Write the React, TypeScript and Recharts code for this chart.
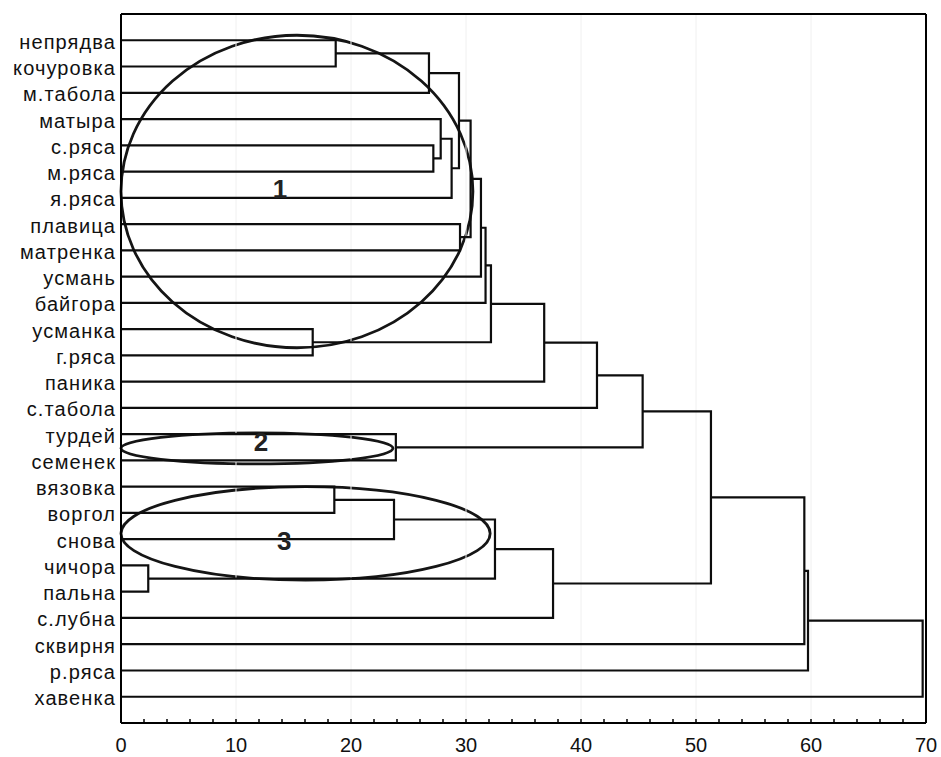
import React from 'react';
import {
  ComposedChart,
  Line,
  XAxis,
  YAxis,
  ReferenceLine,
  ReferenceArea,
  ReferenceDot,
} from 'recharts';

// Leaf labels (top to bottom)
const leaves = [
  'непрядва', 'кочуровка', 'м.табола', 'матыра', 'с.ряса', 'м.ряса', 'я.ряса',
  'плавица', 'матренка', 'усмань', 'байгора', 'усманка', 'г.ряса', 'паника',
  'с.табола', 'турдей', 'семенек', 'вязовка', 'воргол', 'снова', 'чичора',
  'пальна', 'с.лубна', 'сквирня', 'р.ряса', 'хавенка',
];

// Merges: cluster c(i+1) = mergeLeft[i] + mergeRight[i] at mergeHeight[i]
const mergeLeft = [
  'непрядва', 'c1', 'с.ряса', 'матыра', 'c4', 'c2', 'плавица', 'c6', 'c8', 'c9',
  'усманка', 'c10', 'c12', 'c13', 'турдей', 'c14', 'вязовка', 'c17', 'чичора',
  'c18', 'c20', 'c16', 'c22', 'c23', 'c24',
];
const mergeRight = [
  'кочуровка', 'м.табола', 'м.ряса', 'c3', 'я.ряса', 'c5', 'матренка', 'c7',
  'усмань', 'байгора', 'г.ряса', 'c11', 'паника', 'с.табола', 'семенек', 'c15',
  'воргол', 'снова', 'пальна', 'c19', 'с.лубна', 'c21', 'сквирня', 'р.ряса', 'хавенка',
];
const mergeHeight = [
  18.67, 26.78, 27.16, 27.8, 28.75, 29.39, 29.48, 30.4, 31.3, 31.7,
  16.67, 32.17, 36.8, 41.39, 23.9, 45.36, 18.55, 23.74, 2.37, 32.52,
  37.57, 51.3, 59.42, 59.74, 69.71,
];

// Axis ticks
const xLabelTicks = [0, 10, 20, 30, 40, 50, 60, 70];
const xMinorTicks = [
  0, 2, 4, 6, 8, 10, 12, 14, 16, 18, 20, 22, 24, 26, 28, 30, 32, 34, 36,
  38, 40, 42, 44, 46, 48, 50, 52, 54, 56, 58, 60, 62, 64, 66, 68, 70,
];
const gridValues = [10, 20, 30, 40, 50, 60];

// Cluster annotation ellipses (data coordinates)
const ellipseX1 = [0, 0, 0];
const ellipseX2 = [30.6, 23.65, 32.1];
const ellipseY1 = [-0.19, 14.95, 17.0];
const ellipseY2 = [11.71, 16.13, 20.56];
const clusterNames = ['1', '2', '3'];
const clusterNameX = [13.83, 12.17, 14.2];
const clusterNameY = [5.67, 15.29, 19.07];

const FONT = '"Liberation Sans", Arial, sans-serif';

const leafTicks = leaves.map((_, i) => i);

type Node = { h: number; y: number };
const nodes: Record<string, Node> = {};
leaves.forEach((n, i) => {
  nodes[n] = { h: 0, y: i };
});
const links = mergeHeight.map((H, i) => {
  const a = nodes[mergeLeft[i]];
  const b = nodes[mergeRight[i]];
  nodes['c' + (i + 1)] = { h: H, y: (a.y + b.y) / 2 };
  return [
    { x: a.h, y: a.y },
    { x: H, y: a.y },
    { x: H, y: b.y },
    { x: b.h, y: b.y },
  ];
});

const LeafTick = (props: any) => {
  const { x, y, payload } = props;
  return (
    <text
      x={x}
      y={y}
      dy={8.5}
      textAnchor="end"
      fontSize={20}
      fontFamily={FONT}
      letterSpacing={1.1}
      fill="#111"
    >
      {leaves[payload.value]}
    </text>
  );
};

const ValueTick = (props: any) => {
  const { x, payload } = props;
  if (!xLabelTicks.includes(payload.value)) return null;
  return (
    <text
      x={x}
      y={752}
      textAnchor="middle"
      fontSize={20}
      fontFamily={FONT}
      fill="#111"
    >
      {String(payload.value)}
    </text>
  );
};

export default function App() {
  return (
    <div style={{ position: 'absolute', left: 0, top: 0, background: '#fff' }}>
      <ComposedChart
        width={941}
        height={757}
        margin={{ top: 13, right: 14, bottom: 0, left: 0 }}
      >
        <XAxis
          dataKey="x"
          type="number"
          domain={[0, 70]}
          allowDataOverflow
          ticks={xMinorTicks}
          interval={0}
          tickSize={-4}
          tickMargin={20}
          height={34}
          axisLine={{ stroke: '#000', strokeWidth: 2 }}
          tickLine={{ stroke: '#000', strokeWidth: 1.5 }}
          tick={<ValueTick />}
        />
        <XAxis
          xAxisId="top"
          orientation="top"
          type="number"
          domain={[0, 70]}
          allowDataOverflow
          ticks={xMinorTicks}
          interval={0}
          tick={false}
          tickSize={-4}
          height={1}
          axisLine={{ stroke: '#000', strokeWidth: 2 }}
          tickLine={{ stroke: '#000', strokeWidth: 1.5 }}
        />
        <YAxis
          type="number"
          domain={[-1, 26]}
          allowDataOverflow
          reversed
          ticks={leafTicks}
          interval={0}
          width={121}
          tickLine={false}
          tickSize={0}
          tickMargin={5}
          axisLine={{ stroke: '#000', strokeWidth: 2 }}
          tick={<LeafTick />}
        />
        <YAxis
          yAxisId="right"
          orientation="right"
          type="number"
          domain={[-1, 26]}
          allowDataOverflow
          reversed
          ticks={leafTicks}
          interval={0}
          tick={false}
          tickSize={-4}
          width={1}
          axisLine={{ stroke: '#000', strokeWidth: 2 }}
          tickLine={{ stroke: '#000', strokeWidth: 1.5 }}
        />
        {gridValues.map((v) => (
          <ReferenceLine key={'g' + v} x={v} stroke="#f0f0f0" strokeWidth={1} />
        ))}
        {links.map((pts, i) => (
          <Line
            key={'l' + i}
            data={pts}
            dataKey="y"
            type="linear"
            stroke="#0d0d0d"
            strokeWidth={2.2}
            dot={false}
            activeDot={false}
            isAnimationActive={false}
          />
        ))}
        {clusterNames.map((_, i) => (
          <ReferenceArea
            key={'e' + i}
            x1={ellipseX1[i]}
            x2={ellipseX2[i]}
            y1={ellipseY1[i]}
            y2={ellipseY2[i]}
            ifOverflow="visible"
            shape={(p: any) => (
              <ellipse
                cx={p.x + p.width / 2}
                cy={p.y + p.height / 2}
                rx={Math.abs(p.width) / 2}
                ry={Math.abs(p.height) / 2}
                fill="none"
                stroke="#151515"
                strokeWidth={2.8}
              />
            )}
          />
        ))}
        {clusterNames.map((name, i) => (
          <ReferenceDot
            key={'n' + i}
            x={clusterNameX[i]}
            y={clusterNameY[i]}
            r={0}
            ifOverflow="visible"
            shape={(p: any) => (
              <text
                x={p.cx}
                y={p.cy}
                textAnchor="middle"
                dominantBaseline="central"
                fontSize={26}
                fontWeight="bold"
                fontFamily={FONT}
                fill="#222"
              >
                {name}
              </text>
            )}
          />
        ))}
      </ComposedChart>
    </div>
  );
}
